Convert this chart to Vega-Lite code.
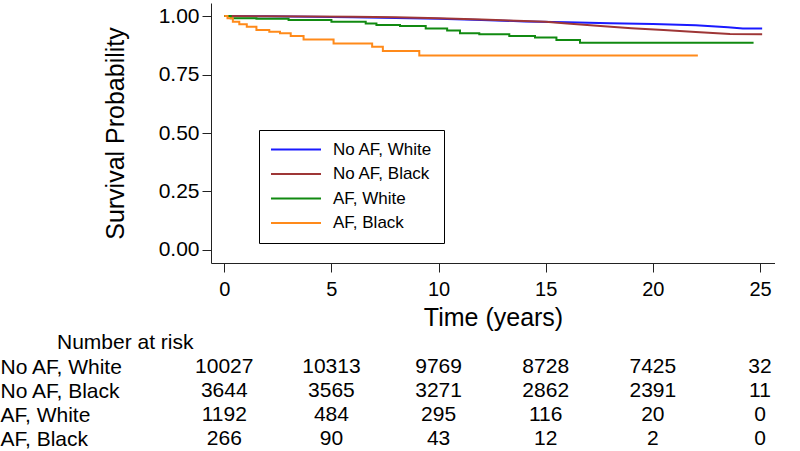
{
  "$schema": "https://vega.github.io/schema/vega-lite/v6.json",
  "padding": {"left": 0, "top": 3, "right": 0, "bottom": 0},
  "background": "white",
  "spacing": 2,
  "config": {
    "font": "Liberation Sans",
    "view": {"stroke": null},
    "axis": {"domainColor": "#222", "tickColor": "#222", "labelColor": "#000", "titleColor": "#000", "grid": false, "labelFlush": false, "titleFontWeight": "normal"}
  },
  "datasets": {
    "curves": [
      {"group": "No AF, White", "t": 0, "s": 1.0},
      {"group": "No AF, White", "t": 2, "s": 0.999},
      {"group": "No AF, White", "t": 4, "s": 0.997},
      {"group": "No AF, White", "t": 6, "s": 0.995},
      {"group": "No AF, White", "t": 8, "s": 0.992},
      {"group": "No AF, White", "t": 10, "s": 0.988},
      {"group": "No AF, White", "t": 12, "s": 0.983},
      {"group": "No AF, White", "t": 14, "s": 0.977},
      {"group": "No AF, White", "t": 16, "s": 0.973},
      {"group": "No AF, White", "t": 18, "s": 0.969},
      {"group": "No AF, White", "t": 20, "s": 0.966},
      {"group": "No AF, White", "t": 22, "s": 0.961},
      {"group": "No AF, White", "t": 23.5, "s": 0.952},
      {"group": "No AF, White", "t": 24.2, "s": 0.947},
      {"group": "No AF, White", "t": 25.1, "s": 0.947},
      {"group": "No AF, Black", "t": 0, "s": 1.0},
      {"group": "No AF, Black", "t": 2, "s": 0.999},
      {"group": "No AF, Black", "t": 4, "s": 0.998},
      {"group": "No AF, Black", "t": 6, "s": 0.997},
      {"group": "No AF, Black", "t": 8, "s": 0.995},
      {"group": "No AF, Black", "t": 10, "s": 0.99},
      {"group": "No AF, Black", "t": 12, "s": 0.985},
      {"group": "No AF, Black", "t": 14, "s": 0.979},
      {"group": "No AF, Black", "t": 15, "s": 0.975},
      {"group": "No AF, Black", "t": 16, "s": 0.968},
      {"group": "No AF, Black", "t": 17.4, "s": 0.958},
      {"group": "No AF, Black", "t": 19, "s": 0.948},
      {"group": "No AF, Black", "t": 20.5, "s": 0.94},
      {"group": "No AF, Black", "t": 22, "s": 0.932},
      {"group": "No AF, Black", "t": 23.6, "s": 0.923},
      {"group": "No AF, Black", "t": 25.1, "s": 0.922},
      {"group": "AF, White", "t": 0, "s": 1.0},
      {"group": "AF, White", "t": 0.3, "s": 0.99},
      {"group": "AF, White", "t": 1.5, "s": 0.988},
      {"group": "AF, White", "t": 3, "s": 0.983},
      {"group": "AF, White", "t": 5, "s": 0.976},
      {"group": "AF, White", "t": 6.6, "s": 0.968},
      {"group": "AF, White", "t": 7.1, "s": 0.962},
      {"group": "AF, White", "t": 8.2, "s": 0.957},
      {"group": "AF, White", "t": 9.4, "s": 0.947},
      {"group": "AF, White", "t": 10.4, "s": 0.938},
      {"group": "AF, White", "t": 11.0, "s": 0.926},
      {"group": "AF, White", "t": 11.9, "s": 0.922},
      {"group": "AF, White", "t": 13.3, "s": 0.915},
      {"group": "AF, White", "t": 14.5, "s": 0.908},
      {"group": "AF, White", "t": 15.5, "s": 0.897},
      {"group": "AF, White", "t": 16.6, "s": 0.886},
      {"group": "AF, White", "t": 24.7, "s": 0.886},
      {"group": "AF, Black", "t": 0, "s": 1.0},
      {"group": "AF, Black", "t": 0.15, "s": 0.99},
      {"group": "AF, Black", "t": 0.4, "s": 0.975},
      {"group": "AF, Black", "t": 0.7, "s": 0.965},
      {"group": "AF, Black", "t": 1.05, "s": 0.954},
      {"group": "AF, Black", "t": 1.5, "s": 0.94},
      {"group": "AF, Black", "t": 2.1, "s": 0.933},
      {"group": "AF, Black", "t": 2.6, "s": 0.926},
      {"group": "AF, Black", "t": 3.1, "s": 0.915},
      {"group": "AF, Black", "t": 3.7, "s": 0.9},
      {"group": "AF, Black", "t": 5.1, "s": 0.883},
      {"group": "AF, Black", "t": 6.9, "s": 0.869},
      {"group": "AF, Black", "t": 7.4, "s": 0.85},
      {"group": "AF, Black", "t": 9.1, "s": 0.831},
      {"group": "AF, Black", "t": 22.1, "s": 0.831}
    ],
    "risk": [
      {"group": "No AF, White", "t": 0, "n": 10027},
      {"group": "No AF, White", "t": 5, "n": 10313},
      {"group": "No AF, White", "t": 10, "n": 9769},
      {"group": "No AF, White", "t": 15, "n": 8728},
      {"group": "No AF, White", "t": 20, "n": 7425},
      {"group": "No AF, White", "t": 25, "n": 32},
      {"group": "No AF, Black", "t": 0, "n": 3644},
      {"group": "No AF, Black", "t": 5, "n": 3565},
      {"group": "No AF, Black", "t": 10, "n": 3271},
      {"group": "No AF, Black", "t": 15, "n": 2862},
      {"group": "No AF, Black", "t": 20, "n": 2391},
      {"group": "No AF, Black", "t": 25, "n": 11},
      {"group": "AF, White", "t": 0, "n": 1192},
      {"group": "AF, White", "t": 5, "n": 484},
      {"group": "AF, White", "t": 10, "n": 295},
      {"group": "AF, White", "t": 15, "n": 116},
      {"group": "AF, White", "t": 20, "n": 20},
      {"group": "AF, White", "t": 25, "n": 0},
      {"group": "AF, Black", "t": 0, "n": 266},
      {"group": "AF, Black", "t": 5, "n": 90},
      {"group": "AF, Black", "t": 10, "n": 43},
      {"group": "AF, Black", "t": 15, "n": 12},
      {"group": "AF, Black", "t": 20, "n": 2},
      {"group": "AF, Black", "t": 25, "n": 0}
    ]
  },
  "vconcat": [
    {
      "width": 564,
      "height": 260,
      "data": {"name": "curves"},
      "encoding": {
        "x": {
          "field": "t", "type": "quantitative",
          "scale": {"domain": [-0.62, 25.7], "nice": false, "zero": false},
          "axis": {"values": [0, 5, 10, 15, 20, 25], "tickSize": 9, "labelPadding": 7, "labelFontSize": 20, "title": "Time (years)", "titleFontSize": 25, "titlePadding": 6}
        },
        "y": {
          "field": "s", "type": "quantitative",
          "scale": {"domain": [-0.0556, 1.0556], "nice": false, "zero": false},
          "axis": {"values": [0, 0.25, 0.5, 0.75, 1], "format": ".2f", "tickSize": 9, "labelPadding": 3, "labelFontSize": 21, "title": "Survival Probability", "titleFontSize": 25, "titlePadding": 30}
        },
        "color": {
          "field": "group", "type": "nominal",
          "scale": {"domain": ["No AF, White", "No AF, Black", "AF, White", "AF, Black"], "range": ["#1a1aff", "#9e3636", "#118a11", "#ff8a1a"]},
          "legend": {"title": null, "orient": "none", "legendX": 48, "legendY": 127, "strokeColor": "#000", "fillColor": "white", "padding": 11, "symbolType": "stroke", "symbolSize": 2500, "symbolStrokeWidth": 2, "clipHeight": 17, "labelFontSize": 17, "labelColor": "#000", "labelOffset": 11, "rowPadding": 6.5, "labelLimit": 300}
        }
      },
      "layer": [
        {
          "transform": [{"filter": "indexof(['No AF, White', 'No AF, Black'], datum.group) >= 0"}],
          "mark": {"type": "line", "strokeWidth": 2, "interpolate": "linear"}
        },
        {
          "transform": [{"filter": "indexof(['AF, White', 'AF, Black'], datum.group) >= 0"}],
          "mark": {"type": "line", "strokeWidth": 2, "interpolate": "step-after"}
        }
      ]
    },
    {
      "width": 564,
      "height": 96,
      "data": {"name": "risk"},
      "title": {"text": "Number at risk", "anchor": "start", "frame": "bounds", "dx": 57, "fontSize": 21, "fontWeight": "normal", "color": "#000", "offset": 2},
      "mark": {"type": "text", "fontSize": 21, "align": "center", "baseline": "middle", "color": "#000"},
      "encoding": {
        "x": {"field": "t", "type": "quantitative", "scale": {"domain": [-0.62, 25.7], "nice": false, "zero": false}, "axis": null},
        "y": {
          "field": "group", "type": "nominal",
          "sort": ["No AF, White", "No AF, Black", "AF, White", "AF, Black"],
          "scale": {"paddingInner": 0, "paddingOuter": 0},
          "axis": {"title": null, "ticks": false, "tickSize": 0, "domain": false, "labelAlign": "left", "labelPadding": 211, "labelFontSize": 21, "labelColor": "#000", "labelLimit": 300}
        },
        "text": {"field": "n", "type": "quantitative", "format": "d"}
      }
    }
  ]
}
